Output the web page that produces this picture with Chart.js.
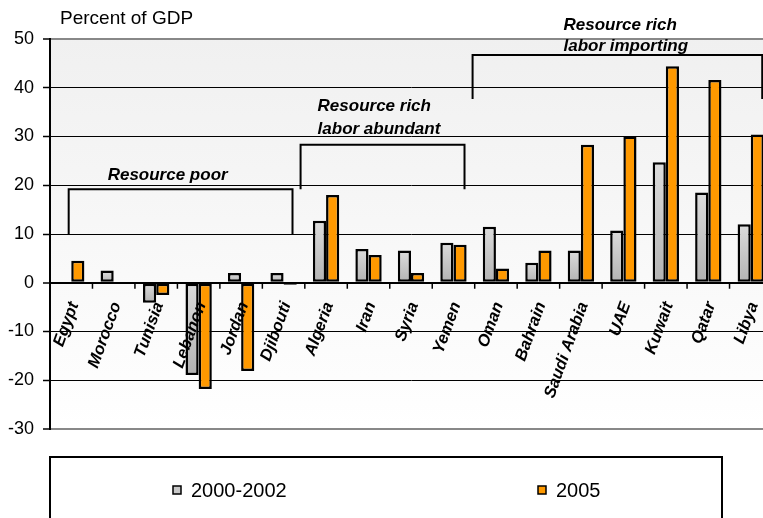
<!DOCTYPE html>
<html>
<head>
<meta charset="utf-8">
<script src="https://cdn.jsdelivr.net/npm/chart.js@4.4.0/dist/chart.umd.min.js"></script>
<style>
  html, body { margin: 0; padding: 0; overflow: hidden; background: #fff; }
  #chart { display: block; }
</style>
</head>
<body>
<canvas id="chart" width="772" height="518"></canvas>
<script>
const countries = ['Egypt', 'Morocco', 'Tunisia', 'Lebanon', 'Jordan', 'Djibouti', 'Algeria', 'Iran', 'Syria',
  'Yemen', 'Oman', 'Bahrain', 'Saudi Arabia', 'UAE', 'Kuwait', 'Qatar', 'Libya'];
const avg2000 = [null, 2.5, -4.1, -18.9, 2.0, 2.0, 12.7, 6.9, 6.6, 8.2, 11.5, 4.1, 6.6, 10.7, 24.7, 18.5, 12.0];
const val2005 = [4.5, null, -2.5, -21.8, -18.1, -0.4, 18.0, 5.7, 2.0, 7.8, 2.9, 6.6, 28.3, 30.0, 44.4, 41.6, 30.4];
const seriesNames = ['2000-2002', '2005'];
const yTicks = [-30, -20, -10, 0, 10, 20, 30, 40, 50];
const groupNames = [['Resource poor'], ['Resource rich', 'labor abundant'], ['Resource rich', 'labor importing']];

const FONT = '"Liberation Sans", Arial, sans-serif';

// grey bars get a light-to-dark fade like the original
function greyFill(ctx) {
  const chart = ctx.chart;
  const y = chart.scales.y;
  if (!y || !chart.chartArea || ctx.raw == null) return '#c8c8c8';
  const p1 = y.getPixelForValue(Math.max(ctx.raw, 0));
  const p2 = y.getPixelForValue(Math.min(ctx.raw, 0));
  if (p2 - p1 < 1) return '#c8c8c8';
  const g = chart.ctx.createLinearGradient(0, p1, 0, p2);
  g.addColorStop(0, '#dcdcdc');
  g.addColorStop(1, '#b2b2b2');
  return g;
}

const extras = {
  id: 'extras',
  beforeDraw(chart) {
    const {ctx, chartArea: a} = chart;
    const g = ctx.createLinearGradient(0, a.top, 0, a.bottom);
    g.addColorStop(0, '#f0f0f0');
    g.addColorStop(1, '#ffffff');
    ctx.save();
    ctx.fillStyle = g;
    ctx.fillRect(a.left, a.top, a.right - a.left, a.bottom - a.top);
    ctx.restore();
  },
  afterDraw(chart) {
    const {ctx} = chart;
    const x = chart.scales.x, y = chart.scales.y;
    const step = x.getPixelForValue(1) - x.getPixelForValue(0);
    const px = i => x.getPixelForValue(0) + i * step;
    const y0 = y.getPixelForValue(0);

    ctx.save();
    // small tick marks on the zero line between countries
    ctx.strokeStyle = '#000';
    ctx.lineWidth = 1.5;
    for (let i = 1; i < countries.length; i++) {
      const bx = px(i - 0.5);
      ctx.beginPath();
      ctx.moveTo(bx, y0);
      ctx.lineTo(bx, y0 + 6);
      ctx.stroke();
    }

    // rotated country names just under the zero line
    ctx.fillStyle = '#000';
    ctx.font = 'italic bold 16.5px ' + FONT;
    ctx.textAlign = 'right';
    ctx.textBaseline = 'middle';
    countries.forEach((c, i) => {
      ctx.save();
      ctx.translate(px(i) + 3, y0 + 20);
      ctx.rotate(-70 * Math.PI / 180);
      ctx.fillText(c, 0, 0);
      ctx.restore();
    });

    // group brackets
    const brackets = [
      {from: -0.06, to: 5.21, top: 19.2, bottom: 9.8},
      {from: 5.4, to: 9.26, top: 28.3, bottom: 19.2},
      {from: 9.45, to: 16.27, top: 46.7, bottom: 37.7}
    ];
    ctx.lineWidth = 2;
    brackets.forEach(b => {
      ctx.beginPath();
      ctx.moveTo(px(b.from), y.getPixelForValue(b.bottom));
      ctx.lineTo(px(b.from), y.getPixelForValue(b.top));
      ctx.lineTo(px(b.to), y.getPixelForValue(b.top));
      ctx.lineTo(px(b.to), y.getPixelForValue(b.bottom));
      ctx.stroke();
    });

    ctx.font = 'italic bold 17px ' + FONT;
    ctx.textAlign = 'center';
    ctx.fillText(groupNames[0][0], px(2.27), y.getPixelForValue(22));
    ctx.textAlign = 'left';
    ctx.fillText(groupNames[1][0], px(5.8), y.getPixelForValue(36.1));
    ctx.fillText(groupNames[1][1], px(5.8), y.getPixelForValue(31.5));
    ctx.fillText(groupNames[2][0], px(11.59), y.getPixelForValue(52.9));
    ctx.fillText(groupNames[2][1], px(11.59), y.getPixelForValue(48.4));

    // axis title
    ctx.font = '19px ' + FONT;
    ctx.fillText('Percent of GDP', 60, 19);

    // legend box
    ctx.lineWidth = 2;
    ctx.strokeRect(50, 457, 672, 80);
    const itemX = [173, 538];
    ctx.font = '20px ' + FONT;
    chart.data.datasets.forEach((ds, i) => {
      ctx.fillStyle = i === 0 ? '#c8c8c8' : ds.backgroundColor;
      ctx.fillRect(itemX[i], 486, 8, 8);
      ctx.lineWidth = 1.5;
      ctx.strokeRect(itemX[i], 486, 8, 8);
      ctx.fillStyle = '#000';
      ctx.fillText(ds.label, itemX[i] + 18, 491);
    });
    ctx.restore();
  }
};

new Chart(document.getElementById('chart'), {
  type: 'bar',
  data: {
    labels: countries,
    datasets: [
      {
        label: seriesNames[0],
        data: avg2000,
        backgroundColor: greyFill,
        borderColor: '#000',
        borderWidth: 2.5,
        borderSkipped: false,
        categoryPercentage: 0.62,
        barPercentage: 1
      },
      {
        label: seriesNames[1],
        data: val2005,
        backgroundColor: '#ff9900',
        borderColor: '#000',
        borderWidth: 2.5,
        borderSkipped: false,
        categoryPercentage: 0.62,
        barPercentage: 1
      }
    ]
  },
  options: {
    responsive: false,
    animation: false,
    layout: { padding: { top: 39, bottom: 89, left: 0, right: 0 } },
    plugins: { legend: { display: false }, tooltip: { enabled: false } },
    scales: {
      x: { display: false, offset: true },
      y: {
        min: yTicks[0],
        max: yTicks[yTicks.length - 1],
        afterFit: s => { s.width = 50; },
        afterBuildTicks: s => { s.ticks = yTicks.map(v => ({ value: v })); },
        ticks: { color: '#000', font: { family: FONT, size: 18 }, padding: 9 },
        grid: {
          color: c => (c.tick && (c.tick.value === 50 || c.tick.value === -30)) ? '#888' : '#000',
          lineWidth: c => (c.tick && (c.tick.value === 50 || c.tick.value === -30 || c.tick.value === 0)) ? 2 : 1,
          tickColor: '#000',
          tickLength: 7,
          tickWidth: 1.5
        },
        border: { display: true, color: '#000', width: 2 }
      }
    }
  },
  plugins: [extras]
});
</script>
</body>
</html>
